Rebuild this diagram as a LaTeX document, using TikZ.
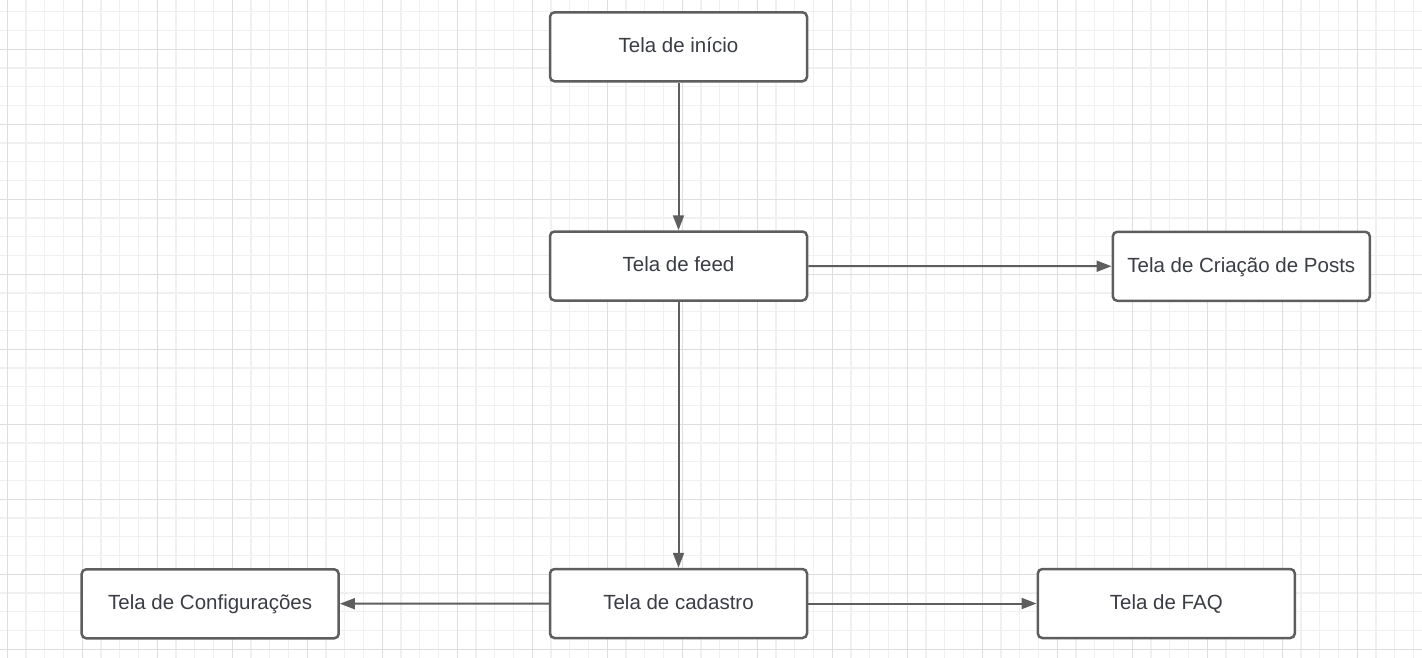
\documentclass[tikz,border=0pt]{standalone}
\usepackage{fontspec}
\setmainfont{Liberation Sans}
\usetikzlibrary{arrows.meta}
\definecolor{boxline}{HTML}{5E5E5E}
\definecolor{txt}{HTML}{3B3D45}
\definecolor{gridminor}{HTML}{F0F0F0}
\definecolor{gridmajor}{HTML}{DEDEDE}
\tikzset{
  screen/.style={draw=boxline, line width=2.5pt, rounded corners=4.5pt, fill=white,
    minimum width=257pt, minimum height=69pt, inner sep=0pt, text=txt,
    text height=11.4pt, text depth=0pt,
    font=\fontsize{20.5pt}{24pt}\selectfont},
  link/.style={draw=boxline, line width=2pt, -{Triangle[length=15pt,width=11pt]}},
  minorline/.style={gridminor, line width=1.2pt},
  majorline/.style={gridmajor, line width=1.1pt}
}
\begin{document}
\begin{tikzpicture}[x=1pt,y=-1pt]
\useasboundingbox (0,0) rectangle (1422,658);
\fill[white] (0,0) rectangle (1422,658);
% grid
\foreach \i in {0,...,76} {
  \draw[minorline] ({-11.45+18.75*\i},0) -- ({-11.45+18.75*\i},658);
}
\foreach \j in {0,...,36} {
  \draw[minorline] (0,{11.8+18.75*(\j-1)}) -- (1422,{11.8+18.75*(\j-1)});
}
\foreach \i in {0,...,19} {
  \draw[majorline] ({7.3+75*\i},0) -- ({7.3+75*\i},658);
}
\foreach \j in {0,...,9} {
  \draw[majorline] (0,{49.3+75*(\j-1)}) -- (1422,{49.3+75*(\j-1)});
}
% nodes
\node[screen] (inicio) at (678.5,46.8) {Tela de início};
\node[screen] (feed) at (678.5,266) {Tela de feed};
\node[screen] (posts) at (1241.3,266.3) {Tela de Criação de Posts};
\node[screen] (cadastro) at (678.5,603.5) {Tela de cadastro};
\node[screen] (config) at (210.2,603.8) {Tela de Configurações};
\node[screen] (faq) at (1166.3,603.5) {Tela de FAQ};
% connectors
\draw[link] (inicio) -- (feed);
\draw[link] (feed) -- (posts);
\draw[link] (feed) -- (cadastro);
\draw[link] (cadastro) -- (config);
\draw[link] (cadastro) -- (faq);
\end{tikzpicture}
\end{document}
